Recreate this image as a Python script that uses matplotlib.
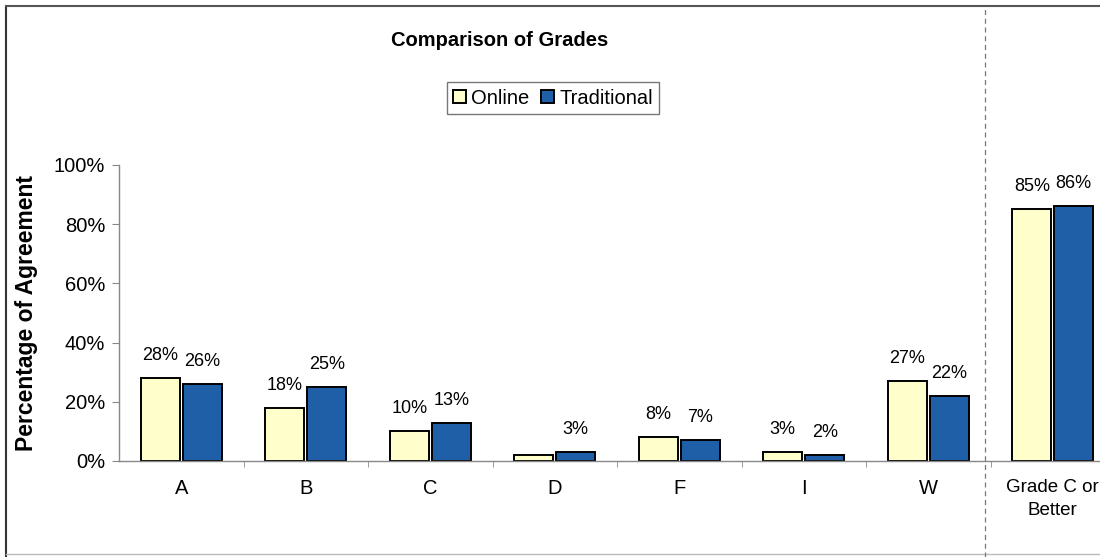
import numpy as np
import matplotlib.pyplot as plt
from matplotlib.lines import Line2D
from matplotlib.ticker import PercentFormatter

plt.rcParams['font.family'] = ['Liberation Sans', 'DejaVu Sans']

categories = ['A', 'B', 'C', 'D', 'F', 'I', 'W', 'Grade C or\nBetter']
online = [28, 18, 10, 2, 8, 3, 27, 85]
traditional = [26, 25, 13, 3, 7, 2, 22, 86]
online_labels = ['28%', '18%', '10%', '', '8%', '3%', '27%', '85%']
trad_labels = ['26%', '25%', '13%', '3%', '7%', '2%', '22%', '86%']

fig = plt.figure(figsize=(11, 5.57), dpi=100)
ax = fig.add_axes([119/1100, 1-461/557, 996/1100, 296/557])

x = np.arange(len(categories))
w = 0.315
off = 0.168
b1 = ax.bar(x - off, online, w, color='#FFFFCC', edgecolor='black', linewidth=1.4, label='Online')
b2 = ax.bar(x + off, traditional, w, color='#1F5FA8', edgecolor='black', linewidth=1.4, label='Traditional')

for bars, labs in ((b1, online_labels), (b2, trad_labels)):
    for r, t in zip(bars, labs):
        if t:
            ax.annotate(t, (r.get_x() + r.get_width()/2, r.get_height()),
                        xytext=(0, 14), textcoords='offset pixels',
                        ha='center', va='bottom', fontsize=13)

ax.set_xlim(-0.5, 7.5)
ax.set_ylim(0, 100)
ax.set_yticks([0, 20, 40, 60, 80, 100])
ax.yaxis.set_major_formatter(PercentFormatter(decimals=0))
ax.set_xticks(x)
ax.set_xticklabels(categories, fontsize=14.5, linespacing=1.45)
# last label sits at the right edge, keep it inside the figure
ax.get_xticklabels()[-1].set_fontsize(13.5)
ax.set_xticks(np.arange(len(categories)) + 0.5, minor=True)
ax.tick_params(axis='x', which='major', length=0, pad=13)
ax.tick_params(axis='x', which='minor', length=4, color='#888888', direction='out')
ax.tick_params(axis='y', length=5, color='#888888', labelsize=14.5, pad=5)
for s in ('top', 'right'):
    ax.spines[s].set_visible(False)
for s in ('left', 'bottom'):
    ax.spines[s].set_color('#888888')
    ax.spines[s].set_linewidth(1.0)

ax.set_ylabel('Percentage of Agreement', fontsize=16.5, fontweight='bold', labelpad=11)

fig.text(500/1100, 1-40/557, 'Comparison of Grades', ha='center', va='center',
         fontsize=14.5, fontweight='bold')
fig.legend(handles=[b1, b2], loc='center', bbox_to_anchor=(553/1100, 1-98/557),
           ncol=2, fontsize=14.5, frameon=True, fancybox=False, edgecolor='#555555',
           handlelength=0.65, handleheight=0.65, handletextpad=0.25, columnspacing=0.6,
           borderpad=0.3, borderaxespad=0)

# outer chart frame and dashed separator
fig.add_artist(Line2D([6/1100, 6/1100], [0, 1-6/557], transform=fig.transFigure, color='#333333', lw=1.5))
fig.add_artist(Line2D([6/1100, 1], [1-6/557, 1-6/557], transform=fig.transFigure, color='#555555', lw=1.5))
fig.add_artist(Line2D([6/1100, 1], [3/557, 3/557], transform=fig.transFigure, color='#bbbbbb', lw=1.0))
fig.add_artist(Line2D([985/1100, 985/1100], [0, 1-6/557], transform=fig.transFigure, color='#777777',
                      lw=0.9, linestyle=(0, (4, 3))))

fig.savefig('out.png', dpi=100)
